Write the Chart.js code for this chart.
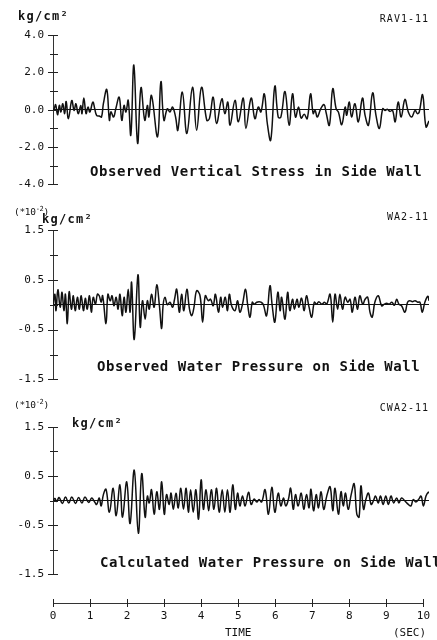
<!DOCTYPE html>
<html><head><meta charset="utf-8">
<script src="https://cdn.jsdelivr.net/npm/chart.js@4.4.1/dist/chart.umd.min.js"></script>
<style>
html,body{margin:0;padding:0;background:#fff;}
#wrap{position:relative;width:437px;height:640px;overflow:hidden;font-family:"DejaVu Sans Mono",monospace;color:#111;}
canvas{position:absolute;left:0;}
.t{position:absolute;white-space:nowrap;line-height:1;}
.u{font-size:12px;font-weight:bold;letter-spacing:1.3px;}
.id{font-size:10px;letter-spacing:1px;}
.ttl{font-size:14px;font-weight:bold;letter-spacing:0.55px;}
.sc{font-size:9.5px;letter-spacing:-0.3px;}
.sc sup{font-size:7px;vertical-align:4px;line-height:0;}
.ax{font-size:11px;}
</style></head>
<body><div id="wrap">
<canvas id="c1" width="437" height="200" style="top:0px"></canvas>
<canvas id="c2" width="437" height="195" style="top:200px"></canvas>
<canvas id="c3" width="437" height="195" style="top:395px"></canvas>
<canvas id="c4" width="437" height="50" style="top:590px"></canvas>

<div class="t u" style="left:18px;top:9.5px">kg/cm²</div>
<div class="t id" style="right:8px;top:13.5px">RAV1-11</div>
<div class="t ttl" style="left:90px;top:164px">Observed Vertical Stress in Side Wall</div>

<div class="t sc" style="left:14px;top:207px">(*10<sup>-2</sup>)</div>
<div class="t u" style="left:42px;top:212.5px">kg/cm²</div>
<div class="t id" style="right:8px;top:211.5px">WA2-11</div>
<div class="t ttl" style="left:97px;top:359px">Observed Water Pressure on Side Wall</div>

<div class="t sc" style="left:14px;top:400px">(*10<sup>-2</sup>)</div>
<div class="t id" style="right:8px;top:403px">CWA2-11</div>
<div class="t u" style="left:72px;top:416.5px">kg/cm²</div>
<div class="t ttl" style="left:100px;top:555px">Calculated Water Pressure on Side Wall</div>

<div class="t ax" style="left:393px;top:627px">(SEC)</div>
</div>
<script>
// ---- Observed vertical stress in side wall (RAV1-11), kg/cm2 ----
const timeRav = [0.00,0.03,0.07,0.12,0.17,0.21,0.26,0.31,0.35,0.41,0.50,0.56,0.61,0.67,0.74,0.77,0.82,0.88,0.93,0.98,
 1.06,1.11,1.16,1.23,1.29,1.34,1.43,1.50,1.54,1.61,1.67,1.76,1.83,1.89,1.94,2.00,2.07,2.15,2.25,2.34,
 2.44,2.51,2.55,2.62,2.78,2.87,2.95,3.04,3.11,3.18,3.26,3.32,3.44,3.56,3.71,3.82,3.95,4.09,4.16,4.26,
 4.35,4.49,4.57,4.65,4.71,4.84,4.93,5.06,5.13,5.27,5.37,5.46,5.53,5.62,5.70,5.79,5.90,5.99,6.06,6.17,
 6.28,6.37,6.45,6.53,6.60,6.68,6.76,6.85,6.92,6.97,7.03,7.12,7.21,7.26,7.35,7.44,7.53,7.59,7.68,7.77,
 7.81,7.88,7.94,8.03,8.12,8.23,8.30,8.39,8.50,8.59,8.68,8.77,8.83,8.89,8.96,9.03,9.10,9.18,9.26,9.36,
 9.45,9.54,9.63,9.69,9.74,9.83,9.92,10.00];
const valRav = [0.00,0.05,0.27,-0.27,0.23,-0.12,0.32,-0.21,0.44,-0.48,0.49,-0.04,0.32,-0.21,0.23,-0.21,0.62,-0.21,0.14,-0.12,
 0.41,0.05,-0.30,-0.34,-0.39,0.32,1.08,-0.57,-0.12,-0.39,0.05,0.67,-0.57,0.23,-0.12,0.50,-1.36,2.39,-1.80,1.18,
 -0.57,0.23,-0.39,0.76,-1.45,1.50,-0.57,0.05,-0.12,0.14,-0.39,-1.10,0.94,-1.27,1.20,-1.10,1.20,-0.57,-0.48,0.67,
 -0.74,0.58,-0.21,0.41,-0.83,0.50,-0.65,0.62,-1.00,0.62,-0.48,0.14,-0.12,0.85,-0.74,-1.63,1.26,-0.40,-0.40,0.97,
 -0.83,0.85,-0.40,0.14,-0.45,-0.25,-0.48,0.85,-0.21,-0.04,-0.39,0.05,0.27,-0.12,-0.83,1.12,0.05,-0.12,-0.80,0.14,
 -0.30,0.41,-0.39,0.32,-0.65,0.62,-0.30,-0.83,0.90,-0.30,-1.00,0.05,-0.04,0.02,-0.09,-0.04,-0.65,0.41,-0.39,0.55,
 -0.12,-0.39,-0.04,-0.21,-0.12,0.80,-0.92,-0.60];

// ---- Observed water pressure on side wall (WA2-11), x10^-2 kg/cm2 ----
const timeWa = [0.00,0.05,0.08,0.13,0.19,0.24,0.29,0.33,0.38,0.43,0.49,0.54,0.59,0.65,0.70,0.75,0.81,0.86,0.91,0.97,
 1.02,1.07,1.13,1.18,1.23,1.28,1.32,1.41,1.46,1.52,1.57,1.62,1.68,1.73,1.78,1.84,1.89,1.94,2.00,2.05,
 2.09,2.16,2.26,2.32,2.38,2.45,2.51,2.56,2.62,2.69,2.76,2.83,2.89,2.93,2.98,3.04,3.11,3.18,3.23,3.29,
 3.36,3.42,3.48,3.56,3.63,3.69,3.75,3.82,3.91,3.98,4.05,4.13,4.19,4.26,4.32,4.40,4.46,4.51,4.58,4.64,
 4.69,4.75,4.84,4.91,4.97,5.04,5.12,5.18,5.24,5.30,5.35,5.42,5.48,5.53,5.59,5.68,5.77,5.83,5.90,5.98,
 6.04,6.08,6.17,6.24,6.30,6.37,6.42,6.49,6.54,6.61,6.68,6.74,6.81,6.88,6.95,7.01,7.07,7.15,7.22,7.28,
 7.37,7.44,7.50,7.57,7.63,7.70,7.77,7.84,7.90,7.96,8.03,8.10,8.16,8.24,8.30,8.37,8.43,8.49,8.56,8.65,
 8.74,8.81,8.87,8.94,9.01,9.08,9.14,9.20,9.27,9.36,9.43,9.49,9.56,9.63,9.70,9.76,9.82,9.89,9.97,10.00];
const valWa = [-0.02,0.21,-0.12,0.30,-0.05,0.25,-0.12,0.21,-0.38,0.26,-0.09,0.18,-0.12,0.15,-0.09,0.18,-0.12,0.13,-0.09,0.18,
 -0.15,0.15,0.01,0.21,0.18,0.05,0.18,-0.38,0.21,0.08,0.18,-0.02,0.15,-0.09,0.21,-0.22,0.15,-0.15,0.31,-0.15,
 0.45,-0.70,0.60,-0.45,0.08,-0.29,0.08,-0.09,0.21,-0.05,0.40,-0.02,-0.48,0.00,0.15,0.00,0.05,-0.05,0.10,0.31,
 -0.15,0.21,-0.12,0.31,-0.09,-0.22,-0.05,0.28,0.18,-0.35,0.18,0.08,0.11,-0.02,0.21,-0.15,0.15,-0.05,0.15,-0.12,
 0.21,-0.02,-0.12,0.08,-0.15,0.01,0.31,-0.02,-0.25,0.05,0.01,0.05,0.06,0.05,0.01,-0.22,0.38,-0.02,-0.35,0.25,
 -0.12,0.15,-0.29,0.25,-0.12,0.11,-0.09,0.11,-0.05,0.13,-0.12,0.18,-0.05,-0.25,0.05,0.01,0.06,0.01,0.05,0.01,
 0.21,-0.35,0.21,-0.09,0.21,-0.09,0.15,0.05,0.11,-0.15,0.15,-0.09,0.18,0.01,0.11,0.15,-0.15,-0.25,0.05,0.18,
 -0.02,0.01,0.03,0.01,0.05,-0.01,0.11,0.01,-0.02,-0.15,0.05,0.08,0.06,0.08,0.05,0.05,-0.15,0.05,0.17,0.08];

// ---- Calculated water pressure on side wall (CWA2-11), x10^-2 kg/cm2 ----
const timeCwa = [0.00,0.05,0.10,0.16,0.25,0.33,0.42,0.50,0.60,0.68,0.77,0.85,0.95,1.03,1.10,1.16,1.23,1.28,1.34,1.41,
 1.50,1.60,1.68,1.78,1.85,1.96,2.05,2.16,2.27,2.36,2.45,2.51,2.56,2.62,2.69,2.76,2.83,2.89,2.96,3.02,
 3.09,3.14,3.20,3.27,3.33,3.40,3.47,3.54,3.60,3.66,3.73,3.80,3.87,3.94,4.00,4.07,4.14,4.21,4.28,4.35,
 4.42,4.50,4.57,4.64,4.71,4.78,4.85,4.91,4.97,5.04,5.11,5.20,5.27,5.35,5.42,5.48,5.55,5.64,5.73,5.82,
 5.90,5.99,6.06,6.13,6.19,6.26,6.32,6.39,6.45,6.52,6.60,6.67,6.74,6.81,6.86,6.93,7.00,7.06,7.13,7.20,
 7.28,7.37,7.44,7.50,7.59,7.66,7.72,7.78,7.85,7.93,8.01,8.08,8.14,8.19,8.26,8.32,8.39,8.46,8.52,8.58,
 8.65,8.71,8.78,8.85,8.92,8.99,9.06,9.14,9.20,9.27,9.36,9.45,9.52,9.58,9.65,9.72,9.79,9.85,9.92,9.98,10.00];
const valCwa = [0.00,0.04,-0.02,0.06,-0.06,0.07,-0.05,0.07,-0.06,0.06,-0.05,0.07,-0.04,0.05,-0.02,-0.08,0.05,-0.11,0.12,0.23,
 -0.24,0.25,-0.31,0.32,-0.34,0.38,-0.47,0.62,-0.67,0.55,-0.34,0.09,-0.05,0.22,-0.28,0.18,-0.18,0.38,-0.28,0.12,
 -0.08,0.15,-0.18,0.15,-0.15,0.25,-0.18,0.25,-0.24,0.22,-0.24,0.22,-0.38,0.42,-0.18,0.22,-0.21,0.22,-0.18,0.25,
 -0.24,0.22,-0.24,0.22,-0.24,0.32,-0.18,0.15,-0.11,0.09,-0.11,0.17,-0.08,0.03,-0.03,0.02,-0.03,0.22,-0.28,0.27,
 -0.24,0.15,-0.11,0.05,-0.11,0.02,0.25,-0.18,0.12,-0.11,0.15,-0.18,0.12,-0.15,0.23,-0.21,0.12,-0.15,0.18,-0.18,
 0.09,0.28,-0.21,0.25,-0.28,0.18,-0.11,0.15,-0.18,0.12,0.34,-0.28,-0.34,0.30,-0.18,0.02,0.15,-0.08,-0.01,0.09,
 -0.05,0.09,-0.08,0.09,-0.08,0.09,-0.05,0.05,-0.05,0.05,-0.01,-0.08,-0.11,0.02,-0.03,0.02,0.09,-0.11,0.09,0.17,0.15];

// ---- tick definitions ----
const stressTicks = [-4,-3,-2,-1,0,1,2,3,4];
const stressLabels = [4,2,0,-2,-4];
const pressTicks = [-1.5,-1,-0.5,0,0.5,1,1.5];
const pressLabels = [1.5,0.5,-0.5,-1.5];
const timeTicks = [0,1,2,3,4,5,6,7,8,9,10];
const timeTitle = 'TIME';

const FONT = {family:'DejaVu Sans Mono', size:11};
const INK = '#111';

const crossTicks = {
  id:'crossTicks',
  afterDraw(chart){
    const ctx = chart.ctx;
    ctx.save();
    ctx.strokeStyle = '#222';
    ctx.lineWidth = 1;
    const ys = chart.scales.y;
    if (ys && ys.options.display) {
      const x = ys.right;
      ys.ticks.forEach(t => {
        const y = Math.round(ys.getPixelForValue(t.value)) + 0.5;
        const major = t.label !== '' && t.label !== undefined;
        ctx.beginPath(); ctx.moveTo(x - (major ? 5 : 3), y); ctx.lineTo(x + 5, y); ctx.stroke();
      });
    }
    const xs = chart.scales.x;
    if (xs && xs.options.display) {
      const y = xs.top;
      xs.ticks.forEach(t => {
        const x = Math.round(xs.getPixelForValue(t.value)) + 0.5;
        ctx.beginPath(); ctx.moveTo(x, y - 4); ctx.lineTo(x, y + 4); ctx.stroke();
      });
    }
    ctx.restore();
  }
};

function makePanel(id, times, vals, ymin, ymax, ticks, labels, padTop, padBottom){
  return new Chart(document.getElementById(id), {
    type:'line',
    data:{datasets:[{
      data: times.map((t,i) => ({x:t, y:vals[i]})),
      borderColor:INK, borderWidth:1.5, pointRadius:0, tension:0.4, fill:false
    }]},
    options:{
      responsive:false, animation:false, devicePixelRatio:1,
      layout:{padding:{top:padTop, bottom:padBottom, left:0, right:8}},
      plugins:{legend:{display:false}, tooltip:{enabled:false}},
      scales:{
        x:{type:'linear', min:0, max:10, display:false},
        y:{
          min:ymin, max:ymax,
          afterBuildTicks: s => { s.ticks = ticks.map(v => ({value:v})); },
          afterFit: s => { s.width = 53; },
          ticks:{autoSkip:false, padding:9, color:INK, font:FONT,
                 callback: v => labels.includes(v) ? v.toFixed(1) : ''},
          grid:{drawTicks:false, lineWidth:1,
                color: c => (c.tick && c.tick.value === 0) ? INK : 'rgba(0,0,0,0)'},
          border:{display:true, color:'#333', width:1}
        }
      }
    },
    plugins:[crossTicks]
  });
}

makePanel('c1', timeRav, valRav, -4, 4, stressTicks, stressLabels, 35, 14);
makePanel('c2', timeWa, valWa, -1.5, 1.5, pressTicks, pressLabels, 30, 14);
makePanel('c3', timeCwa, valCwa, -1.5, 1.5, pressTicks, pressLabels, 32, 16);

new Chart(document.getElementById('c4'), {
  type:'line',
  data:{datasets:[]},
  options:{
    responsive:false, animation:false, devicePixelRatio:1,
    layout:{padding:{top:12, bottom:0, left:53, right:8}},
    plugins:{legend:{display:false}, tooltip:{enabled:false}},
    scales:{
      x:{
        type:'linear', min:0, max:10,
        afterBuildTicks: s => { s.ticks = timeTicks.map(v => ({value:v})); },
        afterFit: s => { s.height = 37; },
        ticks:{autoSkip:false, maxRotation:0, padding:7, color:INK, font:FONT, callback: v => String(v)},
        grid:{display:false, drawTicks:false},
        border:{display:true, color:'#333', width:1},
        title:{display:true, text:timeTitle, color:INK, font:FONT, padding:{top:0, bottom:0}}
      },
      y:{display:false, min:0, max:1}
    }
  },
  plugins:[crossTicks]
});
</script>
</body></html>
